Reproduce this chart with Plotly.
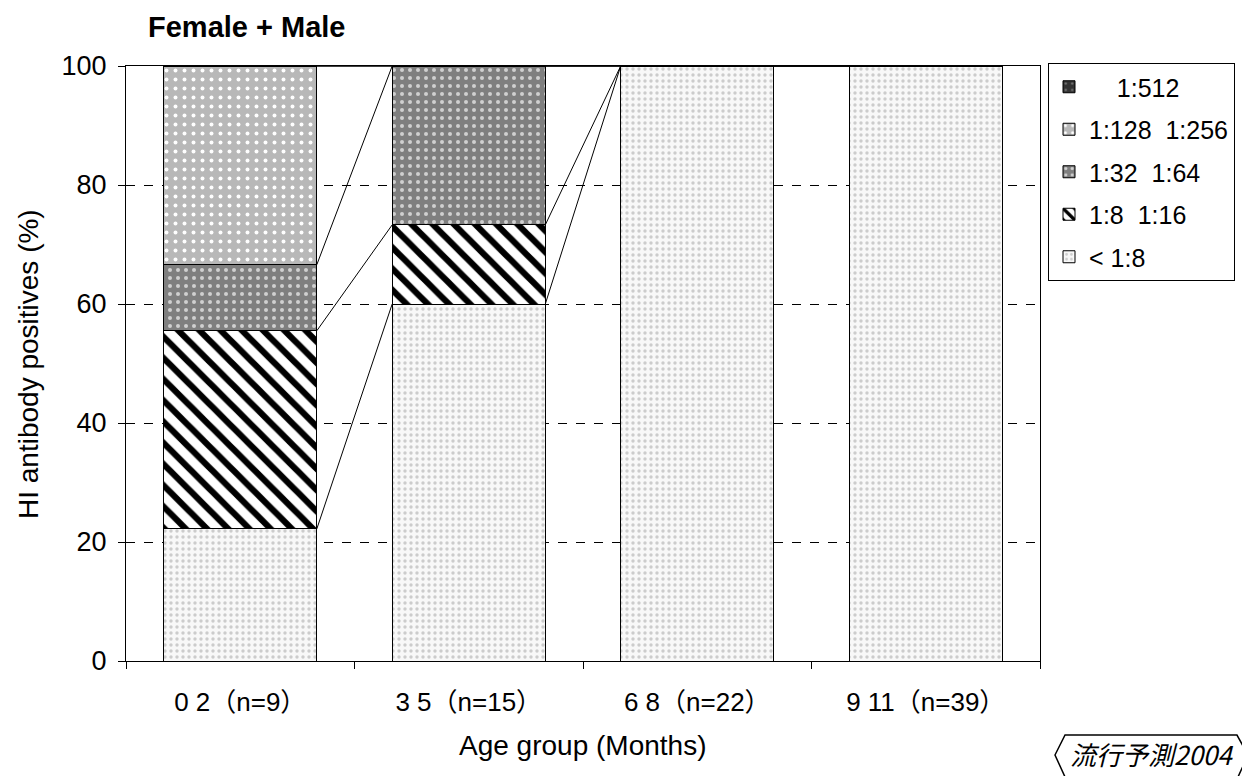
import plotly.graph_objects as go

categories = ["0 2（n=9）", "3 5（n=15）", "6 8（n=22）", "9 11（n=39）"]
series_names = ["< 1:8", "1:8  1:16", "1:32  1:64", "1:128  1:256", "    1:512"]
lt8 = [22.2, 60.0, 100.0, 100.0]
t8_16 = [33.3, 13.3, 0.0, 0.0]
t32_64 = [11.1, 26.7, 0.0, 0.0]
t128_256 = [33.4, 0.0, 0.0, 0.0]
t512 = [0.0, 0.0, 0.0, 0.0]
y_ticks = [0, 20, 40, 60, 80, 100]

series_values = [lt8, t8_16, t32_64, t128_256, t512]
patterns = [
    dict(shape=".", fgcolor="#cccccc", bgcolor="#f8f8f8", size=6, solidity=0.25, fgopacity=1),
    dict(shape="\\", fgcolor="#000000", bgcolor="#ffffff", size=15, solidity=0.42, fgopacity=1),
    dict(shape=".", fgcolor="#d0d0d0", bgcolor="#7f7f7f", size=8, solidity=0.2, fgopacity=1),
    dict(shape=".", fgcolor="#ffffff", bgcolor="#b8b8b8", size=9, solidity=0.15, fgopacity=1),
    dict(shape=".", fgcolor="#777777", bgcolor="#333333", size=8, solidity=0.1, fgopacity=1),
]

xpos = list(range(len(categories)))
bar_w = 0.67

fig = go.Figure()
n = len(series_names)
for i, (name, vals) in enumerate(zip(series_names, series_values)):
    fig.add_trace(go.Bar(
        x=xpos, y=vals, name=name, width=bar_w,
        marker=dict(color=patterns[i]["bgcolor"], pattern=patterns[i],
                    line=dict(color="#000000", width=1)),
        legendgroup=name, legendrank=n - i,
    ))

# series lines connecting segment tops
lx, ly = [], []
cum = []
running = [0.0] * len(categories)
for vals in series_values:
    running = [r + v for r, v in zip(running, vals)]
    cum.append(list(running))
for c in cum:
    for i in range(len(categories) - 1):
        lx += [xpos[i] + bar_w / 2, xpos[i + 1] - bar_w / 2, None]
        ly += [c[i], c[i + 1], None]
fig.add_trace(go.Scatter(x=lx, y=ly, mode="lines", line=dict(color="#000000", width=1),
                         showlegend=False, hoverinfo="skip"))

font_family = "Liberation Sans, Arial, Noto Sans CJK JP, sans-serif"

# page coordinates (browser adds 8px body margin)
OFF = 8
L, R, T, B = 126, 1040, 66, 661
W, H = 1250 - OFF, 776 - OFF
def px(x):
    return (x - L) / (R - L)
def py(y):
    return (B - y) / (B - T)

hexagon = [(1055, 755), (1065, 735), (1237, 735), (1248, 755), (1238, 777), (1065, 777)]
path = "M " + " L ".join(f"{px(a):.4f},{py(b):.4f}" for a, b in hexagon) + " Z"

fig.update_layout(
    width=W, height=H,
    margin=dict(l=L - OFF, r=W - (R - OFF), t=T - OFF, b=H - (B - OFF)),
    barmode="stack",
    plot_bgcolor="#ffffff", paper_bgcolor="#ffffff",
    font=dict(family=font_family, size=27, color="#000000"),
    title=dict(text="<b>Female + Male</b>", x=px(148), xref="paper", xanchor="left",
               y=1 - (27 - OFF) / H, yref="container", yanchor="middle",
               font=dict(size=29, family=font_family)),
    showlegend=True,
    legend=dict(x=px(1048), y=py(63), xanchor="left", yanchor="top",
                traceorder="grouped", tracegroupgap=7,
                bordercolor="#000000", borderwidth=1, font=dict(size=25),
                bgcolor="#ffffff", itemwidth=30),
    xaxis=dict(range=[-0.5, 3.5], tickmode="array", tickvals=xpos, ticktext=categories,
               ticks="", showline=True, linecolor="#000000", linewidth=1, mirror=True,
               showgrid=False, zeroline=False, ticklabelstandoff=18,
               minor=dict(tickmode="array", tickvals=[-0.5, 0.5, 1.5, 2.5, 3.5],
                          ticks="outside", ticklen=7, tickcolor="#000000", showgrid=False),
               tickfont=dict(size=26)),
    yaxis=dict(range=[0, 100], tickmode="array", tickvals=y_ticks,
               ticks="outside", ticklen=7, tickcolor="#000000", ticklabelstandoff=6,
               showline=True, linecolor="#000000", linewidth=1, mirror=True,
               showgrid=True, gridcolor="#000000", griddash="dash", gridwidth=0.6,
               zeroline=False, tickfont=dict(size=27)),
    shapes=[dict(type="path", path=path, xref="paper", yref="paper",
                 line=dict(color="#000000", width=1.5), fillcolor="rgba(0,0,0,0)")],
    annotations=[
        dict(text="<i>流行予測2004</i>", x=px(1151), y=py(754), xref="paper", yref="paper",
             showarrow=False, font=dict(size=26, family="Noto Sans CJK JP, sans-serif"),
             xanchor="center", yanchor="middle"),
        dict(text="Age group (Months)", x=px(582), y=py(745), xref="paper", yref="paper",
             showarrow=False, font=dict(size=28), xanchor="center", yanchor="middle"),
        dict(text="HI antibody positives (%)", x=px(28), y=py(364), xref="paper", yref="paper",
             showarrow=False, font=dict(size=28), xanchor="center", yanchor="middle",
             textangle=-90),
    ],
)

fig.write_html("out.html")
